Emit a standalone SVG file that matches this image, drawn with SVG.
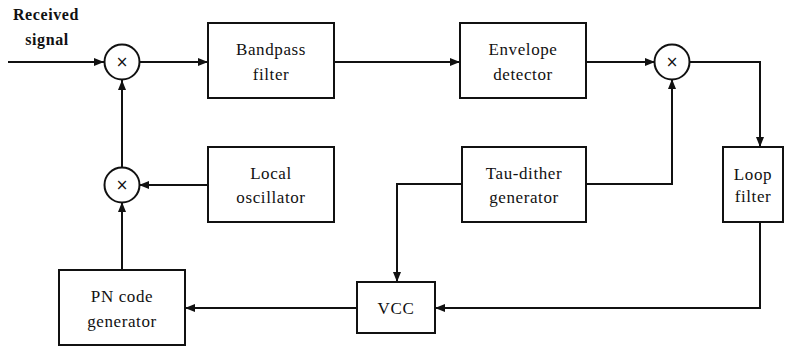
<svg xmlns="http://www.w3.org/2000/svg" width="789" height="347" viewBox="0 0 789 347">
<style>
.box{fill:#fff;stroke:#111;stroke-width:2}
.mix{fill:#fff;stroke:#111;stroke-width:2}
.ln{fill:none;stroke:#111;stroke-width:2}
text{font-family:"Liberation Serif","Times New Roman",serif;font-size:17px;fill:#111;text-anchor:middle;letter-spacing:0.6px}
.b{font-weight:bold;font-size:16px}
.x{font-family:"DejaVu Sans",sans-serif;font-size:15px;letter-spacing:0}
</style>
<defs>
<marker id="ah" viewBox="0 0 10 8" refX="10" refY="4" markerWidth="10" markerHeight="8" markerUnits="userSpaceOnUse" orient="auto">
<path d="M0,0 L10,4 L0,8 Z" fill="#111"/>
</marker>
</defs>
<g id="connectors">
<path class="ln" d="M8,62 H104" marker-end="url(#ah)"/>
<path class="ln" d="M140,62 H208" marker-end="url(#ah)"/>
<path class="ln" d="M334,62 H460" marker-end="url(#ah)"/>
<path class="ln" d="M586,62 H655" marker-end="url(#ah)"/>
<path class="ln" d="M689,62 H760 V147" marker-end="url(#ah)"/>
<path class="ln" d="M586,184 H672 V79" marker-end="url(#ah)"/>
<path class="ln" d="M462,184 H397 V282" marker-end="url(#ah)"/>
<path class="ln" d="M760,222 V308 H435" marker-end="url(#ah)"/>
<path class="ln" d="M357,308 H185" marker-end="url(#ah)"/>
<path class="ln" d="M122,270 V202" marker-end="url(#ah)"/>
<path class="ln" d="M208,185 H139" marker-end="url(#ah)"/>
<path class="ln" d="M122,168 V80" marker-end="url(#ah)"/>
</g>
<g id="input-label">
<text class="b" x="46" y="20">Received</text>
<text class="b" x="47" y="45">signal</text>
</g>
<g id="mixer1"><circle class="mix" cx="122" cy="62" r="17.5"/><text class="x" x="122" y="67">×</text></g>
<g id="mixer2"><circle class="mix" cx="672" cy="62" r="17.5"/><text class="x" x="672" y="67">×</text></g>
<g id="mixer3"><circle class="mix" cx="122" cy="185" r="17.5"/><text class="x" x="122" y="190">×</text></g>
<g id="bandpass"><rect class="box" x="208" y="23" width="126" height="75"/><text x="271" y="55">Bandpass</text><text x="271" y="80">filter</text></g>
<g id="envelope"><rect class="box" x="460" y="23" width="126" height="75"/><text x="523" y="55">Envelope</text><text x="523" y="80">detector</text></g>
<g id="local"><rect class="box" x="208" y="147" width="126" height="75"/><text x="271" y="179">Local</text><text x="271" y="203">oscillator</text></g>
<g id="taudither"><rect class="box" x="462" y="147" width="124" height="75"/><text x="524" y="179">Tau-dither</text><text x="524" y="203">generator</text></g>
<g id="loop"><rect class="box" x="723" y="147" width="60" height="75"/><text x="753" y="180">Loop</text><text x="753" y="202">filter</text></g>
<g id="vcc"><rect class="box" x="357" y="282" width="78" height="51"/><text x="396" y="314">VCC</text></g>
<g id="pn"><rect class="box" x="59" y="270" width="126" height="75"/><text x="122" y="302">PN code</text><text x="122" y="327">generator</text></g>
</svg>
